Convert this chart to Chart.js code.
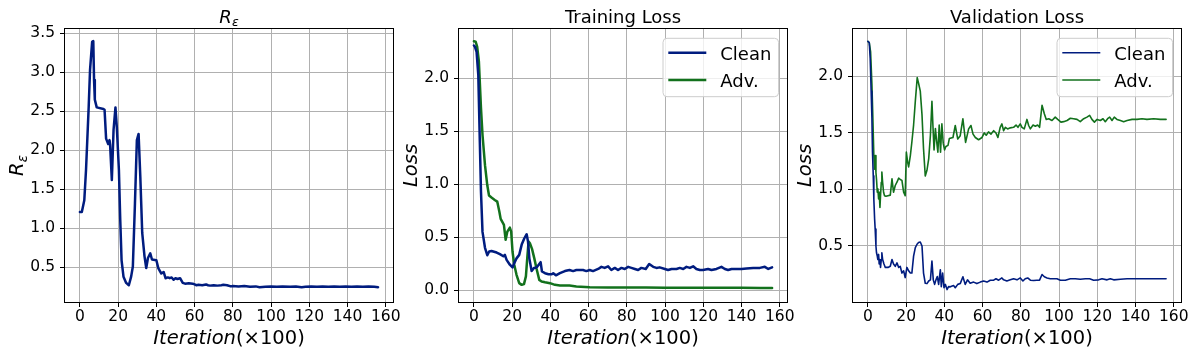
<!DOCTYPE html>
<html>
<head>
<meta charset="utf-8">
<script src="https://cdn.jsdelivr.net/npm/chart.js@4.4.1/dist/chart.umd.min.js"></script>
<style>
  body { margin: 0; background: #fff; width: 1196px; height: 355px; overflow: hidden; position: relative; }
  canvas { position: absolute; top: 0; }
</style>
</head>
<body>
<canvas id="pRe" width="400" height="355" style="left:0px"></canvas>
<canvas id="pTrain" width="400" height="355" style="left:394px"></canvas>
<canvas id="pVal" width="400" height="355" style="left:788px"></canvas>
<script>
// R_eps curve (x in units of 100 iterations)
const reIter = [0, 1, 2.3, 3.2, 4.6, 5.3, 6.4, 7, 7.4, 7.8,
  8.8, 12.3, 12.9, 13.7, 14.8, 15.5, 15.8, 16.7, 17.6, 18.6,
  19.3, 20.4, 21.1, 21.8, 22.8, 24.2, 25.6, 26.8, 27.7, 28.8,
  29.8, 30.7, 31.6, 32.6, 33.8, 34.7, 35.6, 36.8, 37.7, 40,
  41, 42.6, 43.8, 44.8, 46, 47, 48, 49, 50, 51,
  52.4, 53.8, 55, 57, 59, 60, 61, 62, 64, 66,
  67, 68, 70, 72, 74, 75, 77, 79, 80, 83,
  86, 89, 92, 94, 97, 100, 103, 106, 110, 113,
  116, 118, 121, 124, 127, 130, 133, 136, 139, 142,
  145, 148, 151, 154, 156]
const reVals = [1.21, 1.21, 1.36, 1.75, 2.56, 3.03, 3.39, 3.40, 2.90, 2.65,
  2.55, 2.53, 2.52, 2.15, 2.08, 2.13, 2.07, 1.62, 2.26, 2.55,
  2.30, 1.75, 1.11, 0.59, 0.38, 0.30, 0.27, 0.38, 0.51, 1.32,
  2.13, 2.21, 1.66, 0.94, 0.64, 0.49, 0.62, 0.68, 0.60, 0.59,
  0.49, 0.42, 0.44, 0.36, 0.37, 0.36, 0.37, 0.34, 0.36, 0.35,
  0.36, 0.30, 0.29, 0.295, 0.29, 0.28, 0.27, 0.275, 0.27, 0.28,
  0.27, 0.265, 0.27, 0.265, 0.27, 0.275, 0.27, 0.255, 0.26, 0.255,
  0.26, 0.25, 0.255, 0.245, 0.25, 0.255, 0.25, 0.255, 0.25, 0.255,
  0.245, 0.25, 0.255, 0.25, 0.255, 0.25, 0.255, 0.25, 0.255, 0.25,
  0.255, 0.25, 0.255, 0.25, 0.245]

// training loss
const trainCleanIter = [0, 0.5, 1.4, 2.3, 3.1, 3.7, 4.5, 5.8, 7, 8,
  9.2, 11.9, 13.6, 15.4, 16.2, 17.1, 18.8, 20.2, 21.1, 22.3,
  23.7, 25, 26.4, 27.6, 28.3, 29, 30.2, 31.4, 32.8, 33.9,
  34.9, 35.6, 37.2, 39, 40.7, 41.5, 42.9, 45, 47.6, 50,
  51.9, 53.6, 55.4, 57.1, 58.8, 60.6, 62.3, 65, 66.7, 68.4,
  70.2, 71.9, 73.7, 75.4, 77.2, 78.9, 80.7, 82.4, 84.2, 85.9,
  87.6, 89.9, 91.7, 93.8, 95.5, 97.2, 99.9, 101.6, 103.4, 106,
  107.7, 109.5, 111.2, 113, 114.7, 116.4, 118.2, 119.9, 122.5, 124.3,
  126.9, 129.5, 131.3, 133, 134.8, 137.4, 140, 142.6, 146.1, 149.6,
  152.2, 154, 156]
const trainClean = [2.31, 2.30, 2.25, 2.03, 1.40, 0.93, 0.55, 0.40, 0.33, 0.365,
  0.37, 0.355, 0.34, 0.32, 0.333, 0.286, 0.24, 0.214, 0.255, 0.30,
  0.333, 0.43, 0.49, 0.528, 0.46, 0.30, 0.18, 0.21, 0.214, 0.24,
  0.264, 0.176, 0.16, 0.15, 0.15, 0.16, 0.14, 0.16, 0.18, 0.19,
  0.18, 0.19, 0.19, 0.19, 0.18, 0.19, 0.18, 0.20, 0.22, 0.21,
  0.225, 0.19, 0.21, 0.19, 0.21, 0.20, 0.22, 0.21, 0.20, 0.19,
  0.21, 0.20, 0.247, 0.22, 0.21, 0.215, 0.20, 0.19, 0.20, 0.20,
  0.21, 0.20, 0.22, 0.21, 0.225, 0.20, 0.19, 0.19, 0.20, 0.19,
  0.20, 0.22, 0.20, 0.19, 0.20, 0.20, 0.20, 0.205, 0.21, 0.21,
  0.22, 0.20, 0.215]
const trainAdvIter = [0, 0.9, 1.7, 2.6, 3.7, 4.5, 5.8, 7, 7.9, 9.2,
  10.9, 12.2, 13.3, 14, 15, 15.7, 16.6, 17.5, 18.8, 19.5,
  20.2, 21.1, 22.3, 23.7, 25, 26.2, 27.2, 27.9, 28.6, 29.3,
  30.4, 31.6, 32.8, 34.2, 35.4, 37.2, 39.8, 42.4, 45, 50,
  53.6, 60.6, 70, 80, 90, 100, 110, 120, 130, 140,
  150, 156]
const trainAdv = [2.35, 2.346, 2.30, 2.16, 1.72, 1.465, 1.18, 0.99, 0.893, 0.874,
  0.852, 0.836, 0.742, 0.673, 0.64, 0.616, 0.475, 0.553, 0.59, 0.553,
  0.365, 0.24, 0.145, 0.066, 0.05, 0.057, 0.13, 0.30, 0.46, 0.443,
  0.39, 0.30, 0.20, 0.097, 0.082, 0.075, 0.066, 0.05, 0.044, 0.044,
  0.035, 0.028, 0.025, 0.024, 0.024, 0.023, 0.023, 0.022, 0.022, 0.022,
  0.021, 0.021]

// validation loss
const valCleanIter = [0, 0.7, 1.2, 1.7, 2.1, 2.4, 2.8, 3.1, 3.5, 3.8,
  4.2, 4.5, 4.9, 5.2, 5.6, 5.9, 6.3, 6.6, 7, 7.3,
  7.7, 8.4, 9.1, 10.5, 11.7, 12.6, 13.4, 14.3, 15.2, 16.1,
  16.9, 17.8, 18.7, 19.5, 20.4, 21.3, 22.2, 23, 23.9, 24.8,
  25.7, 26.5, 27.4, 28.3, 29.1, 30, 30.9, 31.8, 32.7, 33.5,
  34.2, 34.9, 35.6, 36.3, 37, 37.9, 38.4, 39.1, 39.8, 40.5,
  41.4, 42.2, 43.1, 44.8, 45.7, 47, 48.3, 49.7, 50.9, 52.1,
  53.5, 55.3, 57, 58.8, 60.5, 62.3, 64, 65.8, 67, 68.4,
  70.1, 71, 72.7, 74.5, 76.2, 78, 79.7, 81.1, 82.3, 83.6,
  85, 86.7, 88.4, 89.8, 91.1, 92.3, 93.7, 95.4, 97.2, 98.9,
  100.7, 103.3, 105.9, 108.5, 111.1, 113.8, 116, 118.1, 120.7, 122.5,
  125.1, 126.8, 128.6, 132.1, 135.6, 140.8, 146, 151.3, 156]
const valClean = [2.31, 2.30, 2.16, 1.87, 1.63, 1.33, 1.12, 0.916, 0.74, 0.65,
  0.50, 0.44, 0.41, 0.38, 0.425, 0.34, 0.38, 0.31, 0.38, 0.44,
  0.38, 0.34, 0.31, 0.31, 0.32, 0.38, 0.34, 0.32, 0.35, 0.31,
  0.32, 0.26, 0.28, 0.22, 0.31, 0.28, 0.26, 0.26, 0.41, 0.485,
  0.515, 0.53, 0.535, 0.50, 0.26, 0.17, 0.167, 0.19, 0.20, 0.366,
  0.20, 0.16, 0.20, 0.23, 0.16, 0.29, 0.14, 0.26, 0.13, 0.16,
  0.114, 0.14, 0.138, 0.15, 0.13, 0.16, 0.167, 0.227, 0.16, 0.20,
  0.17, 0.18, 0.167, 0.18, 0.19, 0.18, 0.197, 0.197, 0.21, 0.197,
  0.217, 0.20, 0.19, 0.20, 0.21, 0.20, 0.217, 0.19, 0.21, 0.217,
  0.197, 0.194, 0.197, 0.197, 0.247, 0.227, 0.217, 0.21, 0.21, 0.21,
  0.197, 0.197, 0.21, 0.21, 0.206, 0.21, 0.21, 0.197, 0.20, 0.21,
  0.20, 0.21, 0.20, 0.206, 0.21, 0.21, 0.21, 0.21, 0.21]
const valAdvIter = [0, 0.7, 1.4, 2.1, 2.6, 3.1, 3.5, 3.8, 4.2, 4.5,
  4.9, 5.2, 5.6, 5.9, 6.3, 6.6, 7, 7.3, 7.7, 8.2,
  8.7, 9.4, 10.5, 11.7, 12.6, 13.4, 14.3, 15.2, 16.1, 16.9,
  17.8, 18.7, 19.5, 20.1, 20.8, 21.3, 22.2, 23, 23.9, 24.8,
  25.8, 26.5, 27.4, 28.3, 29.1, 30, 30.9, 31.8, 32.7, 33.5,
  34, 34.6, 35.3, 36, 36.6, 37.3, 38, 38.7, 39.4, 40.1,
  40.8, 41.9, 42.6, 44.5, 45.7, 47, 48.3, 49.7, 51.1, 52.7,
  53.9, 55, 56.2, 57.9, 59.7, 60.9, 61.9, 63.1, 64.4, 65.8,
  67, 68, 69.2, 70.1, 71, 71.9, 73.1, 74.5, 76.2, 77.5,
  78.5, 79.7, 80.6, 81.8, 83.2, 84.1, 85, 86.4, 87.6, 88.8,
  89.8, 91.1, 92.3, 93.3, 94.6, 96.3, 98, 99.3, 101, 102.4,
  104.2, 105.9, 107.6, 109.4, 111.1, 112.9, 114.6, 116, 117.2, 118.5,
  119.9, 121.6, 123, 124.2, 125.4, 126.5, 127.7, 128.9, 130.3, 132.1,
  133.8, 135.6, 138.2, 140.8, 143.4, 146, 149.5, 153, 156]
const valAdv = [2.31, 2.30, 2.22, 1.93, 1.63, 1.30, 1.18, 1.30, 1.15, 1.09,
  0.975, 1.005, 0.916, 0.975, 0.84, 0.945, 1.064, 1.153, 1.064, 0.975,
  0.945, 0.94, 0.945, 0.95, 1.094, 0.975, 1.035, 1.064, 1.10, 1.088,
  1.08, 0.975, 0.945, 1.33, 1.24, 1.20, 1.30, 1.42, 1.57, 1.78,
  1.99, 1.94, 1.87, 1.66, 1.36, 1.12, 1.17, 1.27, 1.48, 1.78,
  1.57, 1.35, 1.54, 1.42, 1.33, 1.57, 1.33, 1.58, 1.41, 1.35,
  1.38, 1.39, 1.45, 1.46, 1.566, 1.446, 1.476, 1.626, 1.416, 1.536,
  1.566, 1.49, 1.46, 1.44, 1.46, 1.50, 1.48, 1.51, 1.49, 1.52,
  1.50, 1.46, 1.55, 1.58, 1.52, 1.55, 1.536, 1.545, 1.55, 1.57,
  1.55, 1.58, 1.55, 1.536, 1.62, 1.566, 1.536, 1.57, 1.56, 1.57,
  1.55, 1.745, 1.67, 1.62, 1.626, 1.61, 1.64, 1.62, 1.596, 1.60,
  1.61, 1.63, 1.626, 1.62, 1.60, 1.626, 1.64, 1.656, 1.62, 1.596,
  1.62, 1.61, 1.626, 1.60, 1.626, 1.64, 1.61, 1.64, 1.62, 1.61,
  1.60, 1.61, 1.62, 1.62, 1.626, 1.62, 1.626, 1.62, 1.62]

const xTicks = [0, 20, 40, 60, 80, 100, 120, 140, 160]
const reTicks = [0.5, 1.0, 1.5, 2.0, 2.5, 3.0, 3.5]
const trainTicks = [0.0, 0.5, 1.0, 1.5, 2.0]
const valTicks = [0.5, 1.0, 1.5, 2.0]

const BLUE = '#001c7f'
const GREEN = '#12711c'
const FONT = '"DejaVu Sans"'

function pts(xs, ys) {
  return xs.map((x, i) => ({ x: x, y: ys[i] }))
}

function drawRuns(ctx, runs, x, y) {
  let w = 0
  runs.forEach(r => { ctx.font = r[1]; w += ctx.measureText(r[0]).width })
  let cx = x - w / 2
  runs.forEach(r => {
    ctx.font = r[1]
    ctx.fillText(r[0], cx, y + (r[2] || 0))
    cx += ctx.measureText(r[0]).width
  })
}

const xLabel = [['Iteration', 'italic 19.5px ' + FONT], ['(×100)', '19.5px ' + FONT]]

// frame, titles, axis labels and legend box drawn like the matplotlib figure
const panelDeco = {
  id: 'panelDeco',
  afterDraw(chart, args, opts) {
    const ctx = chart.ctx
    const a = chart.chartArea
    const mid = (a.left + a.right) / 2
    ctx.save()
    ctx.strokeStyle = '#000'
    ctx.lineWidth = 1
    ctx.strokeRect(Math.round(a.left) - 0.5, Math.round(a.top) - 0.5,
      Math.round(a.right - a.left) + 1, Math.round(a.bottom - a.top) + 1)

    ctx.fillStyle = '#000'
    ctx.textBaseline = 'alphabetic'
    drawRuns(ctx, opts.title, mid, 22.5)
    drawRuns(ctx, xLabel, mid, 344)

    ctx.save()
    ctx.translate(23, (a.top + a.bottom) / 2)
    ctx.rotate(-Math.PI / 2)
    drawRuns(ctx, opts.ylabel, 0, 0)
    ctx.restore()

    if (opts.legend) {
      const bw = 115.6, bh = 58.4
      const bx = a.right - 8.4 - bw, by = a.top + 9.3
      ctx.fillStyle = 'rgba(255,255,255,0.8)'
      ctx.strokeStyle = '#cccccc'
      ctx.lineWidth = 1
      ctx.beginPath()
      ctx.roundRect(bx, by, bw, bh, 4)
      ctx.fill()
      ctx.stroke()
      chart.data.datasets.forEach((ds, i) => {
        const ly = by + 14.4 + i * 27.3
        ctx.strokeStyle = ds.borderColor
        ctx.lineWidth = ds.borderWidth
        ctx.beginPath()
        ctx.moveTo(bx + 5.3, ly)
        ctx.lineTo(bx + 43.3, ly)
        ctx.stroke()
        ctx.fillStyle = '#000'
        ctx.font = '18px ' + FONT
        ctx.fillText(ds.label, bx + 57.3, ly + 7.3)
      })
    }
    ctx.restore()
  }
}

function makePanel(id, datasets, yMin, yMax, yTicks, deco) {
  return new Chart(document.getElementById(id), {
    type: 'line',
    data: { datasets: datasets },
    options: {
      responsive: false,
      animation: false,
      events: [],
      layout: { padding: { top: 29, right: 7, left: 0, bottom: 0 } },
      elements: {
        point: { radius: 0 },
        line: { tension: 0, borderJoinStyle: 'round', borderCapStyle: 'round' }
      },
      plugins: {
        legend: { display: false },
        tooltip: { enabled: false },
        panelDeco: deco
      },
      scales: {
        x: {
          type: 'linear',
          min: -7.8,
          max: 163.8,
          afterBuildTicks: s => { s.ticks = xTicks.map(v => ({ value: v })) },
          afterFit: s => { s.height = 53; s.paddingLeft = 0; s.paddingRight = 0 },
          grid: { color: '#b0b0b0', lineWidth: 1, tickColor: '#000', tickLength: 5 },
          border: { display: false },
          ticks: {
            color: '#000', padding: 1, maxRotation: 0, autoSkip: false,
            font: { family: 'DejaVu Sans', size: 15.5 },
            callback: v => String(v)
          }
        },
        y: {
          min: yMin,
          max: yMax,
          afterBuildTicks: s => { s.ticks = yTicks.map(v => ({ value: v })) },
          afterFit: s => { s.width = 65; s.paddingTop = 0; s.paddingBottom = 0 },
          grid: { color: '#b0b0b0', lineWidth: 1, tickColor: '#000', tickLength: 5 },
          border: { display: false },
          ticks: {
            color: '#000', padding: 5, autoSkip: false,
            font: { family: 'DejaVu Sans', size: 15.5 },
            callback: v => v.toFixed(1)
          }
        }
      }
    },
    plugins: [panelDeco]
  })
}

const reLabel = [['R', 'italic 19.5px ' + FONT], ['ε', 'italic 13.5px ' + FONT, 4]]
const lossLabel = [['Loss', 'italic 19.5px ' + FONT]]

makePanel('pRe', [
  { label: 'R', data: pts(reIter, reVals), borderColor: BLUE, borderWidth: 2.5 }
], 0.055, 3.555, reTicks, {
  title: [['R', 'italic 18px ' + FONT], ['ε', 'italic 12.5px ' + FONT, 3.5]],
  ylabel: reLabel
})

makePanel('pTrain', [
  { label: 'Clean', data: pts(trainCleanIter, trainClean), borderColor: BLUE, borderWidth: 2.5 },
  { label: 'Adv.', data: pts(trainAdvIter, trainAdv), borderColor: GREEN, borderWidth: 2.5 }
], -0.112, 2.466, trainTicks, {
  title: [['Training Loss', '18px ' + FONT]],
  ylabel: lossLabel,
  legend: true
})

makePanel('pVal', [
  { label: 'Clean', data: pts(valCleanIter, valClean), borderColor: BLUE, borderWidth: 1.6 },
  { label: 'Adv.', data: pts(valAdvIter, valAdv), borderColor: GREEN, borderWidth: 1.6 }
], 0.004, 2.42, valTicks, {
  title: [['Validation Loss', '18px ' + FONT]],
  ylabel: lossLabel,
  legend: true
})
</script>
</body>
</html>
